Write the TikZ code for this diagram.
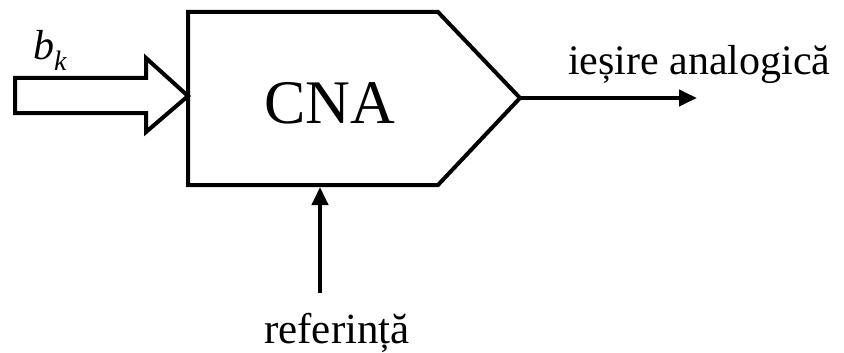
\documentclass[tikz,border=0pt]{standalone}
\usepackage{fontspec}
\setmainfont{Liberation Serif}
\usetikzlibrary{arrows.meta}
\tikzset{
  outline/.style={draw=black, line width=4pt, line join=miter},
  signal/.style={draw=black, line width=4pt, -{Triangle[length=18pt,width=16pt]}},
  label/.style={inner sep=0pt, anchor=base west}
}
\begin{document}
\begin{tikzpicture}[x=1pt, y=-1pt]
  \useasboundingbox (0,0) rectangle (844,353);
  % converter body: rectangle with a pointed right end
  \coordinate (tl) at (188,12);
  \coordinate (tr) at (438,12);
  \coordinate (tip) at (520,98);
  \coordinate (br) at (438,185);
  \coordinate (bl) at (188,185);
  \draw[outline, fill=white] (tl) -- (tr) -- (tip) -- (br) -- (bl) -- cycle;
  \node[label] (cna) at (264,123) {\fontsize{62}{66}\selectfont CNA};
  % hollow input arrow for the digital word
  \coordinate (in) at (188,96);
  \draw[outline] (15,78) -- (146,78) -- (146,58) -- (in) -- (146,132) -- (146,113) -- (15,113) -- cycle;
  \node[label] (bk) at (33,60) {\fontsize{42}{46}\selectfont\textit{b}\raisebox{-10pt}{\fontsize{28}{30}\selectfont\textit{k}}};
  % analog output
  \coordinate (out) at (697,98);
  \draw[signal] (tip) -- (out);
  \node[label] (iesire) at (568,75) {\fontsize{42}{46}\selectfont ieșire analogică};
  % reference input
  \coordinate (refin) at (320,293);
  \coordinate (refend) at (320,187);
  \draw[signal] (refin) -- (refend);
  \node[label] (ref) at (264,343) {\fontsize{43}{46}\selectfont referință};
\end{tikzpicture}
\end{document}
